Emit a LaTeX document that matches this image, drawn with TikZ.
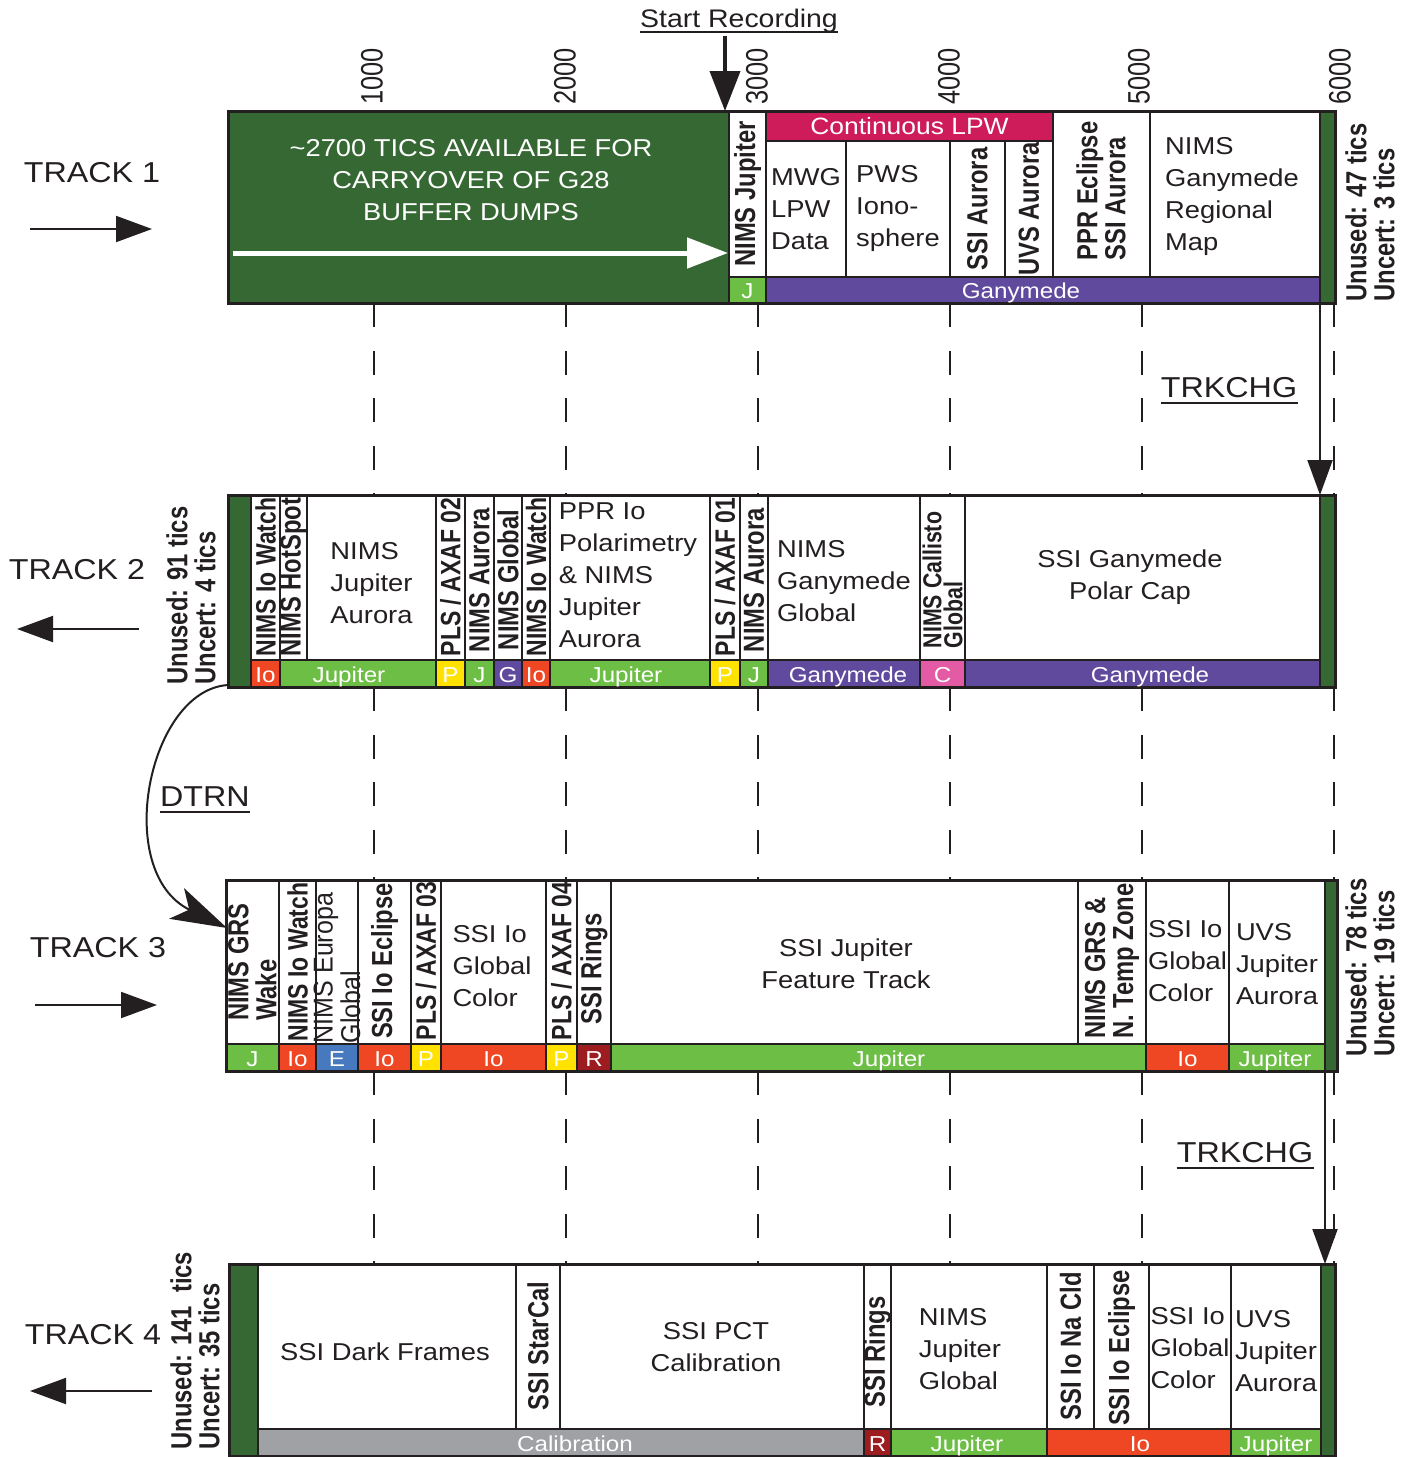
\documentclass[tikz,border=0pt]{standalone}
\usepackage{fontspec}
\setmainfont{Liberation Sans}
\newfontfamily\hf[FakeStretch=1.12]{Liberation Sans}
\newfontfamily\vf[FakeStretch=0.82]{Liberation Sans}
\newfontfamily\vn[FakeStretch=0.92]{Liberation Sans}
\usetikzlibrary{arrows.meta}
\definecolor{linec}{HTML}{231F20}
\definecolor{dkgreen}{HTML}{366833}
\definecolor{jgreen}{HTML}{6DBE45}
\definecolor{gpurple}{HTML}{5F4A9E}
\definecolor{iored}{HTML}{EF4623}
\definecolor{pyellow}{HTML}{FFE200}
\definecolor{eblue}{HTML}{4679BD}
\definecolor{cpink}{HTML}{E35BA5}
\definecolor{rdark}{HTML}{9C1C20}
\definecolor{lpw}{HTML}{CE1B5A}
\definecolor{calgray}{HTML}{A0A1A4}
\tikzset{
  colb/.style={draw=linec, line width=1pt, fill=white},
  cellb/.style={draw=linec, line width=0.8pt},
  outer/.style={draw=linec, line width=1.5pt},
  ht/.style={font=\hf\fontsize{12.2}{16}\selectfont, align=left, inner sep=0pt, text=linec},
  htc/.style={ht, align=center},
  rb/.style={rotate=90, font=\vf\bfseries\fontsize{14.5}{14}\selectfont, align=left, inner sep=0pt, text=linec},
  rbs/.style={rb, font=\vf\bfseries\fontsize{14}{14}\selectfont},
  rsm/.style={rb, font=\vf\bfseries\fontsize{13}{10.5}\selectfont},
  rsmr/.style={rb, font=\vn\fontsize{13.6}{10.5}\selectfont},
  st/.style={font=\hf\fontsize{10.8}{12}\selectfont, text=white, inner sep=0pt, anchor=base},
  ticklab/.style={rotate=90, anchor=west, font=\vf\fontsize{15.5}{15}\selectfont, inner sep=0pt, text=linec},
  unu/.style={rotate=90, anchor=north west, align=left, font=\vf\bfseries\fontsize{14.5}{14}\selectfont, inner sep=0pt, text=linec},
  trk/.style={font=\hf\fontsize{14.4}{16}\selectfont, inner sep=0pt, text=linec},
  dashl/.style={draw=linec, line width=0.75pt, dash pattern=on 12pt off 11.75pt},
  tarr/.style={draw=linec, line width=1pt, -{Triangle[length=18pt,width=13pt]}},
  chg/.style={draw=linec, line width=1pt, -{Triangle[length=17.5pt,width=12.5pt]}},
  uline/.style={draw=linec, line width=1pt}
}
\begin{document}
\begin{tikzpicture}[x=0.5pt,y=-0.5pt]
\useasboundingbox (0,0) rectangle (1409,1457);

% ---------------- header
\node[trk, font=\hf\fontsize{12.7}{14}\selectfont, anchor=base] (sr) at (739,27) {Start Recording};
\draw[uline] ([yshift=-2.5pt]sr.base west) -- ([yshift=-2.5pt]sr.base east);
\foreach \n/\x/\t in {k1/372/1000,k2/565/2000,k3/757/3000,k4/949/4000,k5/1139/5000,k6/1340/6000}
  \node[ticklab] (\n) at (\x,105) {\t};

% ---------------- TRACK 1
\filldraw[fill=dkgreen, cellb] (228,111) rectangle (729,303);
\draw[colb] (729,111) rectangle (766,277);
\filldraw[fill=lpw, cellb] (766,111) rectangle (1053,141);
\foreach \a/\b in {766/846,846/950,950/1005,1005/1053}
  \draw[colb] (\a,141) rectangle (\b,277);
\draw[colb] (1053,111) rectangle (1150,277);
\draw[colb] (1150,111) rectangle (1320,277);
\filldraw[fill=jgreen, cellb] (729,277) rectangle (766,303);
\filldraw[fill=gpurple, cellb] (766,277) rectangle (1320,303);
\filldraw[fill=dkgreen, cellb] (1320,111) rectangle (1335,303);
\draw[outer] (228,111) rectangle (1335,303);

\node[htc, text=white] (t1big) at (471,180) {\textasciitilde 2700 TICS AVAILABLE FOR\\CARRYOVER OF G28\\BUFFER DUMPS};
\coordinate (wa0) at (233,253);
\coordinate (wa1) at (728,253);
\draw[white, line width=2.5pt, -{Triangle[length=20.5pt,width=15pt]}] (wa0) -- (wa1);
\node[rb] (t1a) at (747.5,194) {NIMS Jupiter};
\node[htc, text=white, font=\hf\fontsize{11.8}{14}\selectfont] (t1lpw) at (909.5,126) {Continuous LPW};
\node[ht] (t1b) at (806,209) {MWG\\LPW\\Data};
\node[ht] (t1c) at (898,209) {PWS\\Iono-\\sphere};
\node[rb] (t1d) at (977.5,209) {SSI Aurora};
\node[rb] (t1e) at (1029,209) {UVS Aurora};
\node[rb] (t1f) at (1101,191) {PPR Eclipse\\SSI Aurora};
\node[ht] (t1g) at (1232,197) {NIMS\\Ganymede\\Regional\\Map};
\node[st] (t1s1) at (747.5,298) {J};
\node[st] (t1s2) at (1021,298) {Ganymede};
\node[unu] (u1) at (1345,302) {Unused: 47 tics\\Uncert: 3 tics};

\coordinate (sr0) at (725,36);
\coordinate (sr1) at (725,111);
\draw[linec, line width=2pt, -{Triangle[length=20pt,width=15pt]}] (sr0) -- (sr1);

\node[trk] (tr1) at (92,173) {TRACK 1};
\coordinate (a1s) at (30,229);
\coordinate (a1e) at (152,229);
\draw[tarr] (a1s) -- (a1e);

% dashes 1-2
\foreach \x in {374,566,758,950,1142,1334}
  \draw[dashl] (\x,303) -- (\x,495);
\node[trk] (tc1) at (1229,388) {TRKCHG};
\draw[uline] ([yshift=-2.5pt]tc1.base west) -- ([yshift=-2.5pt]tc1.base east);
\coordinate (tc1a) at (1320,303);
\coordinate (tc1b) at (1320,495);
\draw[chg] (tc1a) -- (tc1b);

% ---------------- TRACK 2
\filldraw[fill=dkgreen, cellb] (228,495) rectangle (251,687);
\foreach \a/\b in {251/280,280/307,307/436,436/465,465/494,494/522,522/550,550/710,710/740,740/768,768/920,920/965,965/1320}
  \draw[colb] (\a,495) rectangle (\b,660);
\foreach \a/\b/\c in {251/280/iored,280/436/jgreen,436/465/pyellow,465/494/jgreen,494/522/gpurple,522/550/iored,550/710/jgreen,710/740/pyellow,740/768/jgreen,768/920/gpurple,920/965/cpink,965/1320/gpurple}
  \filldraw[fill=\c, cellb] (\a,660) rectangle (\b,687);
\filldraw[fill=dkgreen, cellb] (1320,495) rectangle (1335,687);
\draw[outer] (228,495) rectangle (1335,687);

\node[rbs] (t2a) at (265.5,577) {NIMS Io Watch};
\node[rb] (t2b) at (293.5,577) {NIMS HotSpot};
\node[ht] (t2c) at (371.5,583) {NIMS\\Jupiter\\Aurora};
\node[rbs] (t2d) at (450.5,577) {PLS / AXAF 02};
\node[rb] (t2e) at (479.5,580) {NIMS Aurora};
\node[rb] (t2f) at (508,580) {NIMS Global};
\node[rbs] (t2g) at (536,577) {NIMS Io Watch};
\node[ht] (t2h) at (628,575) {PPR Io\\Polarimetry\\\& NIMS\\Jupiter\\Aurora};
\node[rbs] (t2i) at (725,577) {PLS / AXAF 01};
\node[rb] (t2j) at (754,580) {NIMS Aurora};
\node[ht] (t2k) at (844,581) {NIMS\\Ganymede\\Global};
\node[rsm] (t2l) at (942.5,580) {NIMS Callisto\\Global};
\node[htc] (t2m) at (1130,577) {SSI Ganymede\\Polar Cap};
\foreach \n/\x/\t in {s21/265.5/Io,s22/349/Jupiter,s23/450.5/P,s24/479.5/J,s25/508/G,s26/536/Io,s27/626/Jupiter,s28/725/P,s29/754/J,s210/848/Ganymede,s211/942.5/C,s212/1150/Ganymede}
  \node[st] (\n) at (\x,682) {\t};
\node[unu] (u2) at (166,685) {Unused: 91 tics\\Uncert: 4 tics};
\node[trk] (tr2) at (77,570) {TRACK 2};
\coordinate (a2s) at (139,629);
\coordinate (a2e) at (17,629);
\draw[tarr] (a2s) -- (a2e);

% dashes 2-3
\foreach \x in {374,566,758,950,1142,1334}
  \draw[dashl] (\x,687) -- (\x,880);
\node[trk] (dtrn) at (205,797) {DTRN};
\draw[uline] ([yshift=-2.5pt]dtrn.base west) -- ([yshift=-2.5pt]dtrn.base east);
\coordinate (d0) at (228,685);
\coordinate (d1) at (227,928);
\draw[linec, line width=1pt, -{Stealth[length=28pt,width=17pt,inset=7pt]}] (d0) .. controls (148,690) and (112,872) .. (d1);

% ---------------- TRACK 3
\foreach \a/\b in {226/279,279/316,316/358,358/411,411/441,441/546,546/577,577/611,611/1078,1078/1146,1146/1229,1229/1325}
  \draw[colb] (\a,880) rectangle (\b,1044);
\foreach \a/\b/\c in {226/279/jgreen,279/316/iored,316/358/eblue,358/411/iored,411/441/pyellow,441/546/iored,546/577/pyellow,577/611/rdark,611/1146/jgreen,1146/1229/iored,1229/1325/jgreen}
  \filldraw[fill=\c, cellb] (\a,1044) rectangle (\b,1071);
\filldraw[fill=dkgreen, cellb] (1325,880) rectangle (1337,1071);
\draw[outer] (226,880) rectangle (1337,1071);

\node[rb] (t3a) at (252.5,962) {NIMS GRS\\Wake};
\node[rbs] (t3b) at (297.5,962) {NIMS Io Watch};
\node[rsmr] (t3c) at (337,968) {NIMS Europa\\Global};
\node[rb] (t3d) at (384.5,961) {SSI Io Eclipse};
\node[rbs] (t3e) at (426,961) {PLS / AXAF 03};
\node[ht] (t3f) at (492,966) {SSI Io\\Global\\Color};
\node[rbs] (t3g) at (561.5,961) {PLS / AXAF 04};
\node[rb] (t3h) at (594,969) {SSI Rings};
\node[htc] (t3i) at (846,964) {SSI Jupiter\\Feature Track};
\node[rb] (t3j) at (1112,961) {NIMS GRS \&\\N. Temp Zone};
\node[ht] (t3k) at (1187.5,961) {SSI Io\\Global\\Color};
\node[ht] (t3l) at (1277,964) {UVS\\Jupiter\\Aurora};
\foreach \n/\x/\t in {s31/252.5/J,s32/297.5/Io,s33/337/E,s34/384.5/Io,s35/426/P,s36/493.5/Io,s37/561.5/P,s38/594/R,s39/889/Jupiter,s310/1187.5/Io,s311/1275/Jupiter}
  \node[st] (\n) at (\x,1066) {\t};
\node[unu] (u3) at (1345,1057) {Unused: 78 tics\\Uncert: 19 tics};
\node[trk] (tr3) at (98,948) {TRACK 3};
\coordinate (a3s) at (35,1005);
\coordinate (a3e) at (157,1005);
\draw[tarr] (a3s) -- (a3e);

% dashes 3-4
\foreach \x in {374,566,758,950,1142,1334}
  \draw[dashl] (\x,1071) -- (\x,1264);
\node[trk] (tc2) at (1245,1153) {TRKCHG};
\draw[uline] ([yshift=-2.5pt]tc2.base west) -- ([yshift=-2.5pt]tc2.base east);
\coordinate (tc2a) at (1325,1071);
\coordinate (tc2b) at (1325,1264);
\draw[chg] (tc2a) -- (tc2b);

% ---------------- TRACK 4
\filldraw[fill=dkgreen, cellb] (229,1264) rectangle (258,1456);
\foreach \a/\b in {258/516,516/560,560/864,864/891,891/1047,1047/1094,1094/1149,1149/1231,1231/1321}
  \draw[colb] (\a,1264) rectangle (\b,1429);
\foreach \a/\b/\c in {258/864/calgray,864/891/rdark,891/1047/jgreen,1047/1231/iored,1231/1321/jgreen}
  \filldraw[fill=\c, cellb] (\a,1429) rectangle (\b,1456);
\filldraw[fill=dkgreen, cellb] (1321,1264) rectangle (1335,1456);
\draw[outer] (229,1264) rectangle (1335,1456);

\node[ht] (t4a) at (385,1352) {SSI Dark Frames};
\node[rb] (t4b) at (538,1346) {SSI StarCal};
\node[htc] (t4c) at (716,1347) {SSI PCT\\Calibration};
\node[rb] (t4d) at (877.5,1352) {SSI Rings};
\node[ht] (t4e) at (960,1349) {NIMS\\Jupiter\\Global};
\node[rb] (t4f) at (1070.5,1346) {SSI Io Na Cld};
\node[rb] (t4g) at (1121.5,1348) {SSI Io Eclipse};
\node[ht] (t4h) at (1190,1348) {SSI Io\\Global\\Color};
\node[ht] (t4i) at (1276,1351) {UVS\\Jupiter\\Aurora};
\foreach \n/\x/\t in {s41/575/Calibration,s42/877.5/R,s43/967/Jupiter,s44/1140/Io,s45/1276/Jupiter}
  \node[st] (\n) at (\x,1451) {\t};
\node[unu] (u4) at (170,1450) {Unused: 141\ \ tics\\Uncert: 35 tics};
\node[trk] (tr4) at (93,1335) {TRACK 4};
\coordinate (a4s) at (152,1391);
\coordinate (a4e) at (30,1391);
\draw[tarr] (a4s) -- (a4e);
\end{tikzpicture}
\end{document}
